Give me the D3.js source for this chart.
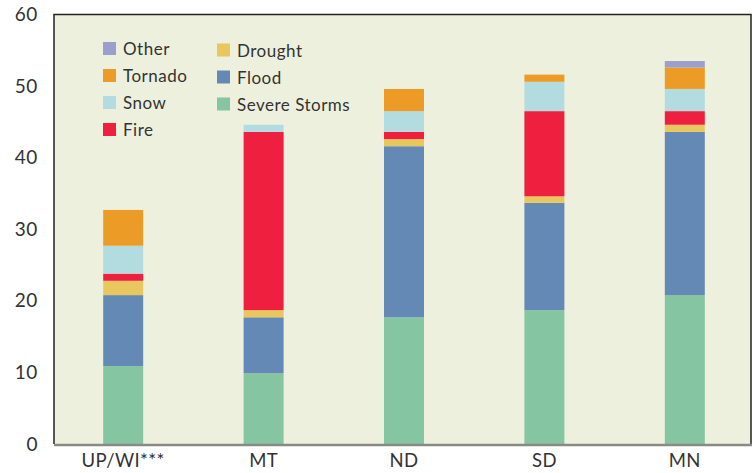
<!DOCTYPE html>
<html>
<head>
<meta charset="utf-8">
<script src="https://cdn.jsdelivr.net/npm/d3@7"></script>
<style>
  html, body { margin: 0; padding: 0; background: #ffffff; }
  svg { display: block; font-family: Lato, "Open Sans", sans-serif; }
</style>
</head>
<body>
<svg id="chart" width="752" height="473"></svg>
<script>
// Regions along the x axis
const regions = ["UP/WI***", "MT", "ND", "SD", "MN"];

// Stack order, bottom to top
const hazards = ["Severe Storms", "Flood", "Drought", "Fire", "Snow", "Tornado", "Other"];

// Values for each hazard, one per region
const severeStorms = [10.9, 9.9, 17.7, 18.7, 20.8];
const flood        = [9.9, 7.8, 23.9, 15.0, 22.8];
const drought      = [2.0, 1.0, 1.0, 0.9, 1.0];
const fire         = [1.0, 24.9, 1.0, 11.9, 1.9];
const snow         = [3.9, 1.0, 2.9, 4.1, 3.1];
const tornado      = [5.0, 0.0, 3.1, 1.0, 3.0];
const other        = [0.0, 0.0, 0.0, 0.0, 0.9];

const yTicks = [0, 10, 20, 30, 40, 50, 60];

const colors = {
  "Severe Storms": "#86c5a2",
  "Flood": "#6589b5",
  "Drought": "#e8c75e",
  "Fire": "#ee1f3f",
  "Snow": "#b3dce1",
  "Tornado": "#ec9b27",
  "Other": "#9a9fce"
};

const seriesByHazard = {
  "Severe Storms": severeStorms, "Flood": flood, "Drought": drought,
  "Fire": fire, "Snow": snow, "Tornado": tornado, "Other": other
};

const rows = regions.map((r, i) => {
  const row = { region: r };
  hazards.forEach(h => row[h] = seriesByHazard[h][i]);
  return row;
});

const svg = d3.select("#chart");
const plot = { left: 54, top: 14.5, right: 751, bottom: 444 };

const x = d3.scaleBand().domain(regions).range([53, 755]);
const barW = 40;
const y = d3.scaleLinear().domain([0, 60]).range([plot.bottom, plot.top]);

// Plot background
svg.append("rect")
  .attr("x", plot.left).attr("y", plot.top)
  .attr("width", plot.right - plot.left).attr("height", plot.bottom - plot.top)
  .attr("fill", "#eef0de");

// Stacked bars
const stacked = d3.stack().keys(hazards)(rows);
svg.append("g").selectAll("g")
  .data(stacked)
  .join("g")
  .attr("fill", d => colors[d.key])
  .selectAll("rect")
  .data(d => d.filter(s => s[1] - s[0] > 0))
  .join("rect")
  .attr("x", d => x(d.data.region) + x.bandwidth() / 2 - barW / 2)
  .attr("width", barW)
  .attr("y", d => y(d[1]))
  .attr("height", d => y(d[0]) - y(d[1]));

// Frame: dark on top, left and right; grey baseline
svg.append("path")
  .attr("d", `M${plot.left},${plot.bottom}V${plot.top}H${plot.right}V${plot.bottom}`)
  .attr("fill", "none").attr("stroke", "#222").attr("stroke-width", 1.5);
svg.append("line")
  .attr("x1", plot.left).attr("x2", plot.right + 1)
  .attr("y1", plot.bottom + 1).attr("y2", plot.bottom + 1)
  .attr("stroke", "#8a8a84").attr("stroke-width", 2.5);

// Y axis labels
const yAxis = d3.axisLeft(y).tickValues(yTicks).tickSize(0).tickPadding(16);
const gy = svg.append("g").attr("transform", `translate(${plot.left},0)`).call(yAxis);
gy.select(".domain").remove();
gy.selectAll("text")
  .attr("font-size", 19).attr("fill", "#333")
  .attr("letter-spacing", 0.6)
  .attr("font-family", "Lato, 'Open Sans', sans-serif");

// X axis labels
const xAxis = d3.axisBottom(x).tickSize(0).tickPadding(10);
const gx = svg.append("g").attr("transform", `translate(0,${plot.bottom})`).call(xAxis);
gx.select(".domain").remove();
gx.selectAll("text")
  .attr("font-size", 18.5).attr("fill", "#333")
  .attr("letter-spacing", 0.4)
  .attr("font-family", "Lato, 'Open Sans', sans-serif");

// Legend in two columns
const legendCols = [
  { x: 103, items: ["Other", "Tornado", "Snow", "Fire"] },
  { x: 217, items: ["Drought", "Flood", "Severe Storms"] }
];
const legendTop = [42, 43.5];
const rowGap = 27;
legendCols.forEach((col, ci) => {
  const g = svg.append("g");
  col.items.forEach((name, i) => {
    const yy = legendTop[ci] + i * rowGap;
    g.append("rect")
      .attr("x", col.x).attr("y", yy)
      .attr("width", 13).attr("height", 13)
      .attr("fill", colors[name]);
    g.append("text")
      .attr("x", col.x + 20).attr("y", yy + 6.5)
      .attr("dominant-baseline", "central")
      .attr("font-size", 17).attr("fill", "#333")
      .attr("letter-spacing", 0.5)
      .text(name);
  });
});
</script>
</body>
</html>
